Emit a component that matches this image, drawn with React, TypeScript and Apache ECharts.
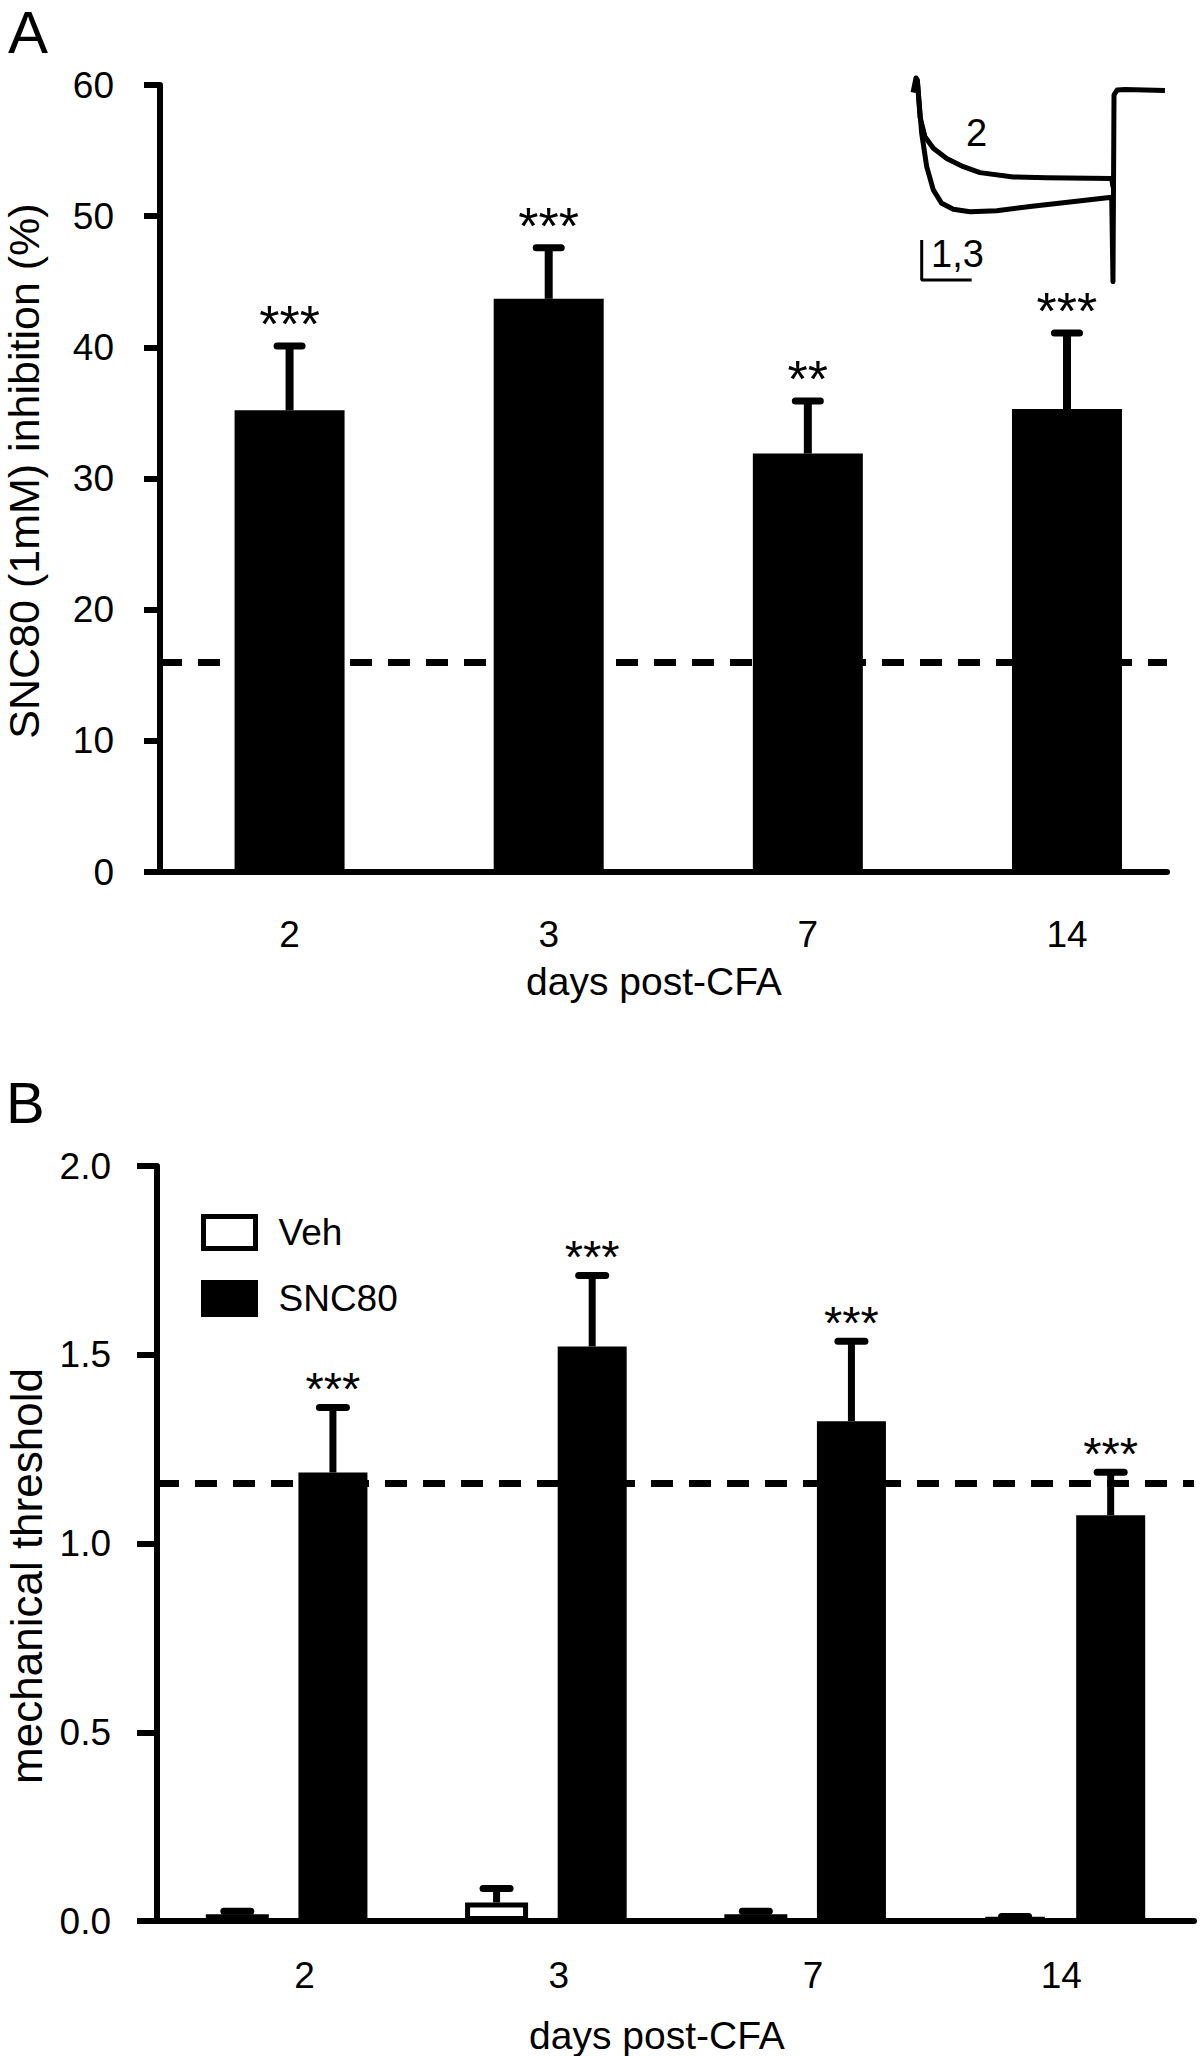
import React, { useEffect, useRef } from 'react';
import * as echarts from 'echarts';

// ---------- Panel A: SNC80 inhibition ----------
const daysA = ['2', '3', '7', '14'];
const inhibitionMean = [35.2, 43.7, 31.9, 35.3];
const inhibitionSem = [4.9, 3.9, 4.0, 5.8];
const inhibitionStars = ['***', '***', '**', '***'];
const inhibitionControl = 16.0;
const yTicksA = { min: 0, max: 60, step: 10 };

// ---------- Panel B: mechanical threshold ----------
const daysB = ['2', '3', '7', '14'];
const vehMean = [0.018, 0.049, 0.018, 0.009];
const vehSem = [0.008, 0.037, 0.008, 0.003];
const sncMean = [1.188, 1.522, 1.324, 1.075];
const sncSem = [0.172, 0.188, 0.212, 0.114];
const sncStars = ['***', '***', '***', '***'];
const thresholdControl = 1.155;
const yTicksB = { min: 0, max: 2, step: 0.5 };

// ---------- Inset current traces (time 0-100, amplitude 0-100) ----------
const trace2 = [
  [2.46, 98.1], [3.52, 80.2], [5.47, 70.5], [8.71, 64.9], [13.95, 60.0],
  [20.43, 56.0], [26.95, 53.1], [39.96, 51.0], [53.0, 50.6], [78.4, 50.3], [78.9, 46.0],
];
const trace13 = [
  [0.8, 92.0], [1.95, 99.0], [2.46, 98.1], [4.18, 72.2], [6.13, 56.0], [8.71, 44.7],
  [11.99, 38.2], [16.52, 35.3], [23.05, 34.1], [33.48, 34.6], [46.48, 36.6],
  [59.49, 38.5], [78.4, 41.1], [78.9, 0.1], [79.3, 90.8], [80.5, 93.2],
  [83.6, 93.4], [99.2, 93.0],
];
const scaleBar = [[4.18, 20.4], [4.18, 1.0], [23.7, 1.0]];

// layout: horizontal nudge (px) of panel B's day labels, as in the original figure
const labelNudgeB = [18, 13, 8, -3];

const FONT = '"Liberation Sans", Arial, Helvetica, sans-serif';

export default function App() {
  const ref = useRef<HTMLDivElement>(null);

  useEffect(() => {
    document.body.style.margin = '0';
    const chart = echarts.init(ref.current as HTMLDivElement, undefined, { renderer: 'svg' });

    const barA = 110;
    const vehW = 63;
    const sncW = 69;
    const gapPct = 0.47;
    const gapPx = vehW * gapPct;
    const sumW = vehW + gapPx + sncW;
    const vehOff = -sumW / 2 + vehW / 2;
    const sncOff = sumW / 2 - sncW / 2;
    const tickFont = 37;
    const titleFont = 39;

    const makeErr = (
      stars: string[] | null,
      off: number,
      capLen: number,
      capW: number,
      stemW: number,
      lift: number,
      starSize: number
    ) => (params: any, api: any) => {
      const x = api.value(0);
      const m = api.value(1);
      const s = api.value(2);
      const base = api.coord([x, m]);
      const top = api.coord([x, m + s]);
      const cx = base[0] + off;
      const children: any[] = [
        {
          type: 'line',
          shape: { x1: cx, y1: base[1], x2: cx, y2: top[1] },
          style: { stroke: '#000', lineWidth: stemW },
        },
        {
          type: 'line',
          shape: { x1: cx - capLen / 2, y1: top[1], x2: cx + capLen / 2, y2: top[1] },
          style: { stroke: '#000', lineWidth: capW, lineCap: 'round' },
        },
      ];
      const star = stars ? stars[params.dataIndex] : '';
      if (star) {
        children.push({
          type: 'text',
          x: cx,
          y: top[1] - lift,
          style: {
            text: star,
            fill: '#000',
            fontSize: starSize,
            fontFamily: FONT,
            align: 'center',
            verticalAlign: 'middle',
          },
        });
      }
      return { type: 'group', children };
    };

    const axisLine = { show: true, onZero: false, lineStyle: { color: '#000', width: 6 } };
    const labelBase = { color: '#000', fontFamily: FONT };

    const richB: any = {};
    labelNudgeB.forEach((d, i) => {
      richB['s' + i] = {
        ...labelBase,
        fontSize: tickFont,
        padding: d >= 0 ? [0, 0, 0, 2 * d] : [0, -2 * d, 0, 0],
      };
    });

    chart.setOption({
      animation: false,
      backgroundColor: '#ffffff',
      textStyle: { fontFamily: FONT, color: '#000' },
      grid: [
        { left: 160, top: 85, width: 1007, height: 787, outerBoundsMode: 'none' },
        { left: 157, top: 1166, width: 1037, height: 755, outerBoundsMode: 'none' },
        { left: 911, top: 76, width: 256, height: 206, outerBoundsMode: 'none' },
      ],
      xAxis: [
        {
          gridIndex: 0,
          type: 'value',
          min: -0.5,
          max: 3.386,
          interval: 0.5,
          axisLine: { ...axisLine, onZero: true },
          axisTick: { show: false },
          splitLine: { show: false },
          axisLabel: {
            ...labelBase,
            fontSize: tickFont,
            margin: 44,
            showMinLabel: true,
            showMaxLabel: true,
            formatter: (v: number) => {
              const i = Math.round(v);
              return Math.abs(v - i) < 1e-6 && i >= 0 && i < daysA.length ? daysA[i] : '';
            },
          },
          name: 'days post-CFA',
          nameLocation: 'middle',
          nameGap: 90,
          nameTextStyle: { ...labelBase, fontSize: titleFont, padding: [0, 19, 0, 0] },
        },
        {
          gridIndex: 1,
          type: 'category',
          data: daysB,
          axisLine: { ...axisLine, onZero: true },
          axisTick: { show: false },
          axisLabel: {
            ...labelBase,
            fontSize: tickFont,
            margin: 36,
            formatter: (v: string, i: number) => `{s${i}|${v}}`,
            rich: richB,
          },
          name: 'days post-CFA',
          nameLocation: 'middle',
          nameGap: 95,
          nameTextStyle: {
            ...labelBase,
            fontSize: titleFont,
            lineHeight: 39,
            padding: [0, 37, 0, 0],
          },
        },
        { gridIndex: 2, type: 'value', min: 0, max: 100, show: false },
      ],
      yAxis: [
        {
          gridIndex: 0,
          type: 'value',
          min: yTicksA.min,
          max: yTicksA.max,
          interval: yTicksA.step,
          axisLine,
          axisTick: { show: true, length: 16, lineStyle: { color: '#000', width: 6 } },
          splitLine: { show: false },
          axisLabel: { ...labelBase, fontSize: tickFont, margin: 46 },
          name: 'SNC80 (1mM) inhibition (%)',
          nameLocation: 'middle',
          nameGap: 115,
          nameTextStyle: { ...labelBase, fontSize: 43, padding: [0, 0, 0, 15] },
        },
        {
          gridIndex: 1,
          type: 'value',
          min: yTicksB.min,
          max: yTicksB.max,
          interval: yTicksB.step,
          axisLine,
          axisTick: { show: true, length: 20, lineStyle: { color: '#000', width: 6 } },
          splitLine: { show: false },
          axisLabel: {
            ...labelBase,
            fontSize: tickFont,
            margin: 46,
            formatter: (v: number) => v.toFixed(1),
          },
          name: 'mechanical threshold',
          nameLocation: 'middle',
          nameGap: 109,
          nameTextStyle: { ...labelBase, fontSize: 44, padding: [0, 65, 0, 0] },
        },
        { gridIndex: 2, type: 'value', min: 0, max: 100, show: false },
      ],
      legend: {
        orient: 'vertical',
        left: 201,
        top: 1214,
        padding: 0,
        itemWidth: 52,
        itemHeight: 32,
        itemGap: 29,
        icon: 'rect',
        selectedMode: false,
        textStyle: { ...labelBase, fontSize: 37, lineHeight: 32, padding: [0, 0, 0, 18] },
        data: [
          { name: 'Veh', itemStyle: { color: '#fff', borderColor: '#000', borderWidth: 5 } },
          { name: 'SNC80', itemStyle: { color: '#000', borderColor: '#000', borderWidth: 5 } },
        ],
      },
      graphic: [
        {
          type: 'text',
          x: 8,
          y: 32,
          style: { text: 'A', fontSize: 60, fontFamily: FONT, fill: '#000', align: 'left', verticalAlign: 'middle' },
        },
        {
          type: 'text',
          x: 6,
          y: 1102.5,
          style: { text: 'B', fontSize: 58, fontFamily: FONT, fill: '#000', align: 'left', verticalAlign: 'middle' },
        },
        {
          type: 'text',
          x: 976.5,
          y: 133,
          style: { text: '2', fontSize: 38, fontFamily: FONT, fill: '#000', align: 'center', verticalAlign: 'middle' },
        },
        {
          type: 'text',
          x: 931,
          y: 254,
          style: { text: '1,3', fontSize: 38, fontFamily: FONT, fill: '#000', align: 'left', verticalAlign: 'middle' },
        },
      ],
      series: [
        // Panel A bars
        {
          name: 'SNC80 inhibition',
          type: 'bar',
          xAxisIndex: 0,
          yAxisIndex: 0,
          barWidth: barA,
          itemStyle: { color: '#000' },
          data: inhibitionMean.map((v, i) => [i, v]),
          markLine: {
            silent: true,
            symbol: 'none',
            label: { show: false },
            lineStyle: { color: '#000', width: 7, type: [22, 16] },
            data: [{ yAxis: inhibitionControl }],
          },
        },
        {
          name: 'A error',
          type: 'custom',
          xAxisIndex: 0,
          yAxisIndex: 0,
          z: 5,
          renderItem: makeErr(inhibitionStars, 0, 25, 7, 8, 22, 52),
          data: inhibitionMean.map((v, i) => [i, v, inhibitionSem[i]]),
        },
        // Panel B bars
        {
          name: 'Veh',
          type: 'bar',
          xAxisIndex: 1,
          yAxisIndex: 1,
          barWidth: vehW,
          barGap: `${gapPct * 100}%`,
          itemStyle: { color: '#fff', borderColor: '#000', borderWidth: 5 },
          data: vehMean,
          markLine: {
            silent: true,
            symbol: 'none',
            label: { show: false },
            lineStyle: { color: '#000', width: 7, type: [22, 16] },
            data: [{ yAxis: thresholdControl }],
          },
        },
        {
          name: 'SNC80',
          type: 'bar',
          xAxisIndex: 1,
          yAxisIndex: 1,
          barWidth: sncW,
          barGap: `${gapPct * 100}%`,
          itemStyle: { color: '#000' },
          data: sncMean,
        },
        {
          name: 'Veh error',
          type: 'custom',
          xAxisIndex: 1,
          yAxisIndex: 1,
          z: 5,
          renderItem: makeErr(null, vehOff, 27, 7, 7, 0, 47),
          data: vehMean.map((v, i) => [i, v, vehSem[i]]),
        },
        {
          name: 'SNC80 error',
          type: 'custom',
          xAxisIndex: 1,
          yAxisIndex: 1,
          z: 5,
          renderItem: makeErr(sncStars, sncOff, 27, 7, 7, 19, 47),
          data: sncMean.map((v, i) => [i, v, sncSem[i]]),
        },
        // Inset traces
        {
          name: 'trace 2',
          type: 'line',
          xAxisIndex: 2,
          yAxisIndex: 2,
          showSymbol: false,
          symbol: 'none',
          lineStyle: { color: '#000', width: 5, join: 'round' },
          data: trace2,
        },
        {
          name: 'trace 1,3',
          type: 'line',
          xAxisIndex: 2,
          yAxisIndex: 2,
          showSymbol: false,
          symbol: 'none',
          lineStyle: { color: '#000', width: 5, join: 'round' },
          data: trace13,
        },
        {
          name: 'scale bar',
          type: 'line',
          xAxisIndex: 2,
          yAxisIndex: 2,
          showSymbol: false,
          symbol: 'none',
          lineStyle: { color: '#000', width: 3 },
          data: scaleBar,
        },
      ],
    });

    return () => chart.dispose();
  }, []);

  return <div ref={ref} style={{ width: 1200, height: 2056 }} />;
}
